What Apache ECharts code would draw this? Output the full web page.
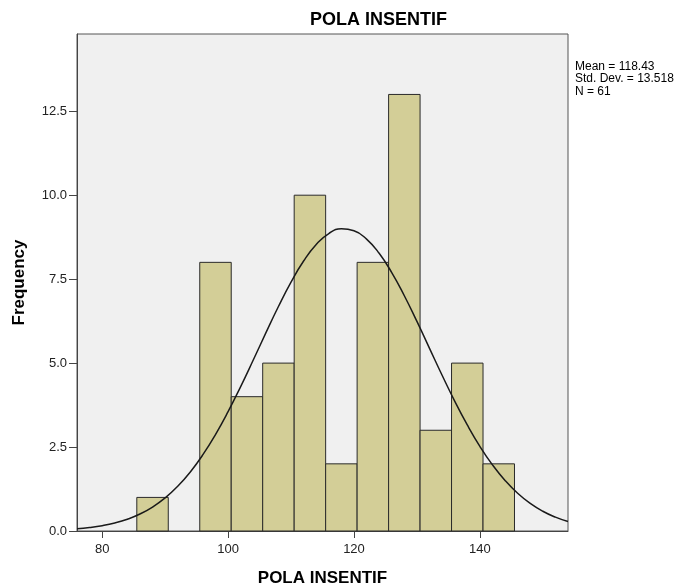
<!DOCTYPE html>
<html><head><meta charset="utf-8">
<script src="https://cdn.jsdelivr.net/npm/echarts@6/dist/echarts.min.js"></script>
<style>html,body{margin:0;padding:0;background:#fff}#c{width:688px;height:585px}</style>
</head><body><div id="c"></div>
<script>
// Histogram bins (lower edge, upper edge) and counts
const binLow  = [85.5, 90.5, 95.5, 100.5, 105.5, 110.5, 115.5, 120.5, 125.5, 130.5, 135.5, 140.5];
const binHigh = [90.5, 95.5, 100.5, 105.5, 110.5, 115.5, 120.5, 125.5, 130.5, 135.5, 140.5, 145.5];
const counts  = [1, 0, 8, 4, 5, 10, 2, 8, 13, 3, 5, 2];
// Normal curve points
const curveX = [76,78,80,82,84,86,88,90,92,94,96,98,100,102,104,106,108,110,112,114,116,118,120,122,124,126,128,130,132,134,136,138,140,142,144,146,148,150,152,154];
const curveY = [0.065,0.103,0.158,0.238,0.351,0.506,0.714,0.986,1.331,1.758,2.272,2.873,3.554,4.301,5.091,5.898,6.685,7.411,8.039,8.531,8.858,8.997,8.941,8.693,8.269,7.696,7.006,6.241,5.439,4.638,3.868,3.157,2.520,1.969,1.505,1.124,0.823,0.589,0.412,0.282];
const xTicks = [80, 100, 120, 140];
const statLines = ['Mean = 118.43', 'Std. Dev. = 13.518', 'N = 61'];

const FONT = 'Liberation Sans, Arial, sans-serif';
const chart = echarts.init(document.getElementById('c'));
const barData = binLow.map((lo, i) => [lo, binHigh[i], counts[i]]).filter(d => d[2] > 0);
chart.setOption({
  animation: false,
  backgroundColor: '#ffffff',
  textStyle: {fontFamily: FONT},
  title: {
    text: 'POLA INSENTIF', left: 305, top: 6,
    textStyle: {fontSize: 18, fontWeight: 'bold', color: '#000', fontFamily: FONT}
  },
  graphic: [{
    type: 'text', left: 575, top: 60,
    style: {text: statLines.join('\n'), fontSize: 12, lineHeight: 12.5, fill: '#000', fontFamily: FONT}
  }],
  grid: {left: 77, right: 120, top: 34, bottom: 54, outerBoundsMode: 'none', containLabel: false,
         show: true, backgroundColor: '#f0f0f0', borderColor: '#555', borderWidth: 1},
  xAxis: {
    type: 'value', min: 76, max: 154,
    name: 'POLA INSENTIF', nameLocation: 'middle', nameGap: 39,
    nameTextStyle: {fontSize: 17, fontWeight: 'bold', color: '#000'},
    axisLine: {show: true, lineStyle: {color: '#444'}},
    axisTick: {show: true, length: 7, lineStyle: {color: '#444'}, customValues: xTicks},
    axisLabel: {color: '#222', fontSize: 13, margin: 12, customValues: xTicks},
    splitLine: {show: false}
  },
  yAxis: {
    type: 'value', min: 0, max: 14.8, interval: 2.5,
    name: 'Frequency', nameLocation: 'middle', nameGap: 49, nameRotate: 90,
    nameTextStyle: {fontSize: 17, fontWeight: 'bold', color: '#000'},
    axisLine: {show: true, lineStyle: {color: '#444'}},
    axisTick: {show: true, length: 8, lineStyle: {color: '#444'}},
    axisLabel: {color: '#222', fontSize: 13, margin: 10, formatter: v => v.toFixed(1), showMaxLabel: false},
    splitLine: {show: false}
  },
  series: [{
    type: 'custom',
    data: barData,
    encode: {x: [0, 1], y: 2},
    renderItem: function (params, api) {
      const p0 = api.coord([api.value(0), api.value(2)]);
      const p1 = api.coord([api.value(1), 0]);
      return {
        type: 'rect',
        shape: {x: p0[0], y: p0[1], width: p1[0] - p0[0], height: p1[1] - p0[1]},
        style: {fill: '#d3ce97', stroke: '#2a2a2a', lineWidth: 1}
      };
    },
    z: 2
  }, {
    type: 'line',
    data: curveX.map((x, i) => [x, curveY[i]]),
    smooth: true, symbol: 'none',
    lineStyle: {color: '#1a1a1a', width: 1.5},
    z: 3
  }]
});
</script></body></html>
